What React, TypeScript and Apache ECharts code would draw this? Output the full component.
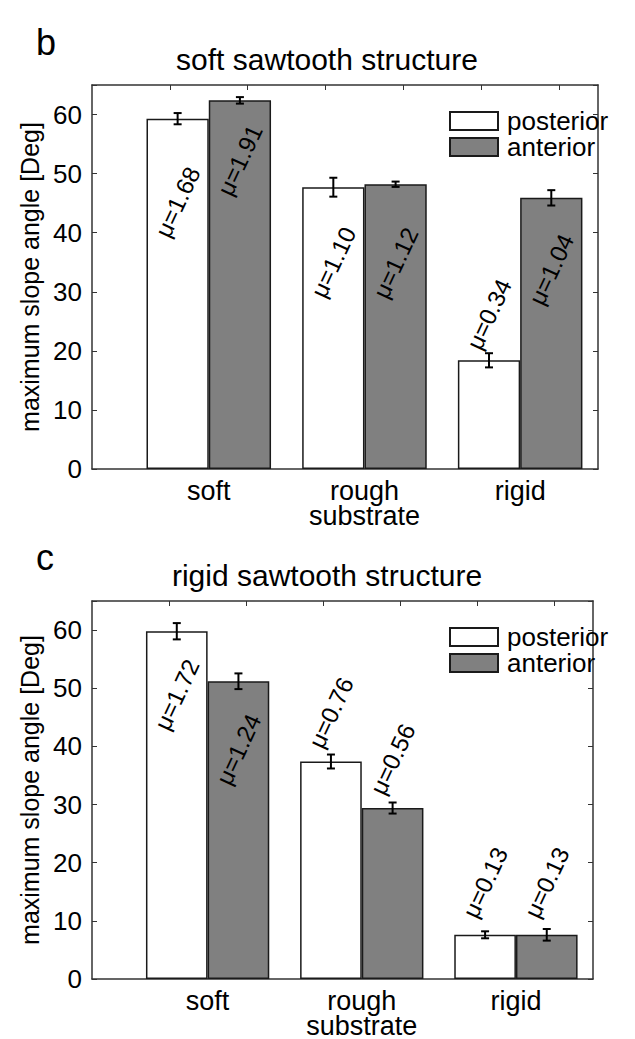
import React, { useEffect, useRef } from "react";
import * as echarts from "echarts";

// ---- data ----
const categories = ["soft", "rough\nsubstrate", "rigid"];
const categoryPos = [1, 2, 3];
const legendNames = ["posterior", "anterior"];

// panel b: soft sawtooth structure
const softPosterior = [59.3, 47.7, 18.4];
const softPosteriorErr = [0.95, 1.6, 1.2];
const softAnterior = [62.4, 48.2, 45.9];
const softAnteriorErr = [0.55, 0.45, 1.3];
const softPosteriorMu = ["1.68", "1.10", "0.34"];
const softAnteriorMu = ["1.91", "1.12", "1.04"];
// y (data units) where each friction-coefficient annotation is centred
const softPosteriorMuY = [45.2, 35.0, 26.2];
const softAnteriorMuY = [52.3, 34.9, 33.8];

// panel c: rigid sawtooth structure
const rigidPosterior = [59.8, 37.4, 7.6];
const rigidPosteriorErr = [1.4, 1.2, 0.6];
const rigidAnterior = [51.2, 29.4, 7.6];
const rigidAnteriorErr = [1.35, 0.95, 1.0];
const rigidPosteriorMu = ["1.72", "0.76", "0.13"];
const rigidAnteriorMu = ["1.24", "0.56", "0.13"];
const rigidPosteriorMuY = [48.9, 45.8, 16.6];
const rigidAnteriorMuY = [39.5, 37.8, 16.6];

const yMax = 65;
const yInterval = 10;
const xMin = 0.25;
const xMax = 3.5;
const barOffset = 0.2;
const barUnits = 0.4;
const bottomTicks = [0.8, 1.8, 2.8];
const topTicks = [0.75, 1.25, 1.75, 2.25, 2.75, 3.25];

const FONT = '"Liberation Sans", Arial, Helvetica, sans-serif';
const AXIS_COLOR = "#333";
const BORDER = "#1a1a1a";

const grids = [
  { left: 92, top: 85, width: 506, height: 384 },
  { left: 92, top: 601, width: 501, height: 380 },
];

function buildPanel(
  idx: number,
  post: number[], postErr: number[], ant: number[], antErr: number[],
  postMu: string[], antMu: string[], postMuY: number[], antMuY: number[]
) {
  const g = grids[idx];
  const barWidth = (barUnits * g.width) / (xMax - xMin);
  const xi = idx * 2;
  const yi = idx * 2;
  const postData = categoryPos.map((c, i) => [c - barOffset, post[i]]);
  const antData = categoryPos.map((c, i) => [c + barOffset, ant[i]]);
  const errData = [
    ...categoryPos.map((c, i) => [c - barOffset, post[i], postErr[i]]),
    ...categoryPos.map((c, i) => [c + barOffset, ant[i], antErr[i]]),
  ];
  const muTexts = [...postMu, ...antMu];
  const labelData = [
    ...categoryPos.map((c, i) => [c - barOffset, postMuY[i]]),
    ...categoryPos.map((c, i) => [c + barOffset, antMuY[i]]),
  ];
  const series: any[] = [
    {
      type: "bar",
      name: legendNames[0],
      xAxisIndex: xi,
      yAxisIndex: yi,
      data: postData,
      barWidth,
      barGap: "-100%",
      itemStyle: { color: "#ffffff", borderColor: BORDER, borderWidth: 1.5 },
      z: 2,
    },
    {
      type: "bar",
      name: legendNames[1],
      xAxisIndex: xi,
      yAxisIndex: yi,
      data: antData,
      barWidth,
      barGap: "-100%",
      itemStyle: { color: "#808080", borderColor: BORDER, borderWidth: 1.5 },
      z: 2,
    },
    {
      type: "custom",
      xAxisIndex: xi,
      yAxisIndex: yi,
      data: errData,
      z: 5,
      renderItem: (params: any, api: any) => {
        const x = api.value(0);
        const v = api.value(1);
        const e = api.value(2);
        const t = api.coord([x, v + e]);
        const b = api.coord([x, v - e]);
        const cw = 4;
        const st = { stroke: "#000", lineWidth: 2 };
        return {
          type: "group",
          children: [
            { type: "line", shape: { x1: t[0], y1: t[1], x2: b[0], y2: b[1] }, style: st },
            { type: "line", shape: { x1: t[0] - cw, y1: t[1], x2: t[0] + cw, y2: t[1] }, style: st },
            { type: "line", shape: { x1: b[0] - cw, y1: b[1], x2: b[0] + cw, y2: b[1] }, style: st },
          ],
        };
      },
    },
    {
      type: "custom",
      xAxisIndex: xi,
      yAxisIndex: yi,
      data: labelData,
      z: 6,
      renderItem: (params: any, api: any) => {
        const p = api.coord([api.value(0), api.value(1)]);
        return {
          type: "text",
          x: p[0],
          y: p[1],
          rotation: (65 * Math.PI) / 180,
          style: {
            text: "\u03bc=" + muTexts[params.dataIndex],
            fontSize: 24,
            fontFamily: FONT,
            fill: "#000",
            align: "center",
            verticalAlign: "middle",
          },
        };
      },
    },
  ];
  const xAxes: any[] = [
    {
      type: "value",
      gridIndex: idx,
      position: "bottom",
      min: xMin,
      max: xMax,
      axisLine: { show: true, onZero: false, lineStyle: { color: AXIS_COLOR, width: 1.5 } },
      axisTick: { show: true, inside: true, length: 5, customValues: bottomTicks, lineStyle: { color: "#777" } },
      axisLabel: {
        show: true,
        customValues: categoryPos,
        formatter: (val: number) => {
          const i = categoryPos.indexOf(Math.round(val));
          return i >= 0 ? categories[i] : "";
        },
        color: "#000",
        fontSize: 27,
        fontFamily: FONT,
        lineHeight: 25,
        margin: 9,
        verticalAlign: "top",
      },
      splitLine: { show: false },
    },
    {
      type: "value",
      gridIndex: idx,
      position: "top",
      min: xMin,
      max: xMax,
      axisLine: { show: true, onZero: false, lineStyle: { color: AXIS_COLOR, width: 1.5 } },
      axisTick: { show: true, inside: true, length: 5, customValues: topTicks, lineStyle: { color: AXIS_COLOR } },
      axisLabel: { show: false },
      splitLine: { show: false },
    },
  ];
  const yAxes: any[] = [
    {
      type: "value",
      gridIndex: idx,
      position: "left",
      min: 0,
      max: yMax,
      interval: yInterval,
      name: "maximum slope angle [Deg]",
      nameLocation: "middle",
      nameRotate: 90,
      nameGap: 50,
      nameTextStyle: { color: "#000", fontSize: 25, fontFamily: FONT },
      axisLine: { show: true, lineStyle: { color: AXIS_COLOR, width: 1.5 } },
      axisTick: { show: true, inside: true, length: 5, lineStyle: { color: AXIS_COLOR } },
      axisLabel: {
        color: "#000",
        fontSize: 26,
        fontFamily: FONT,
        margin: 10,
        formatter: (v: number) => (v <= 60 ? String(v) : ""),
      },
      splitLine: { show: false },
    },
    {
      type: "value",
      gridIndex: idx,
      position: "right",
      min: 0,
      max: yMax,
      interval: yInterval,
      axisLine: { show: true, lineStyle: { color: AXIS_COLOR, width: 1.5 } },
      axisTick: { show: true, inside: true, length: 5, lineStyle: { color: AXIS_COLOR } },
      axisLabel: { show: false },
      splitLine: { show: false },
    },
  ];
  const legend = {
    data: legendNames,
    orient: "vertical",
    left: 449,
    top: g.top + 23,
    itemWidth: 48,
    itemHeight: 18,
    itemGap: 0,
    icon: "rect",
    selectedMode: false,
    textStyle: { fontSize: 26, lineHeight: 25, fontFamily: FONT, color: "#000", padding: [0, 0, 0, 4] },
    padding: 0,
  };
  return { series, xAxes, yAxes, legend };
}

export default function App() {
  const ref = useRef<HTMLDivElement>(null);
  useEffect(() => {
    if (!ref.current) return;
    const chart = echarts.init(ref.current, undefined, { renderer: "svg" });
    const p0 = buildPanel(0, softPosterior, softPosteriorErr, softAnterior, softAnteriorErr,
      softPosteriorMu, softAnteriorMu, softPosteriorMuY, softAnteriorMuY);
    const p1 = buildPanel(1, rigidPosterior, rigidPosteriorErr, rigidAnterior, rigidAnteriorErr,
      rigidPosteriorMu, rigidAnteriorMu, rigidPosteriorMuY, rigidAnteriorMuY);
    chart.setOption({
      animation: false,
      backgroundColor: "#ffffff",
      title: [
        { text: "b", left: 31, top: 19, textStyle: { fontSize: 36, fontWeight: "normal", fontFamily: FONT, color: "#000" } },
        { text: "soft sawtooth structure", left: 322, top: 39, textAlign: "center", textStyle: { fontSize: 30, fontWeight: "normal", fontFamily: FONT, color: "#000" } },
        { text: "c", left: 31, top: 534, textStyle: { fontSize: 36, fontWeight: "normal", fontFamily: FONT, color: "#000" } },
        { text: "rigid sawtooth structure", left: 322, top: 555, textAlign: "center", textStyle: { fontSize: 30, fontWeight: "normal", fontFamily: FONT, color: "#000" } },
      ],
      grid: grids.map((g) => ({ ...g, containLabel: false })),
      xAxis: [...p0.xAxes, ...p1.xAxes],
      yAxis: [...p0.yAxes, ...p1.yAxes],
      legend: [p0.legend, p1.legend],
      series: [...p0.series, ...p1.series],
    });
    return () => chart.dispose();
  }, []);
  return (
    <div
      ref={ref}
      style={{ position: "absolute", left: 0, top: 0, width: 635, height: 1039, background: "#fff" }}
    />
  );
}
